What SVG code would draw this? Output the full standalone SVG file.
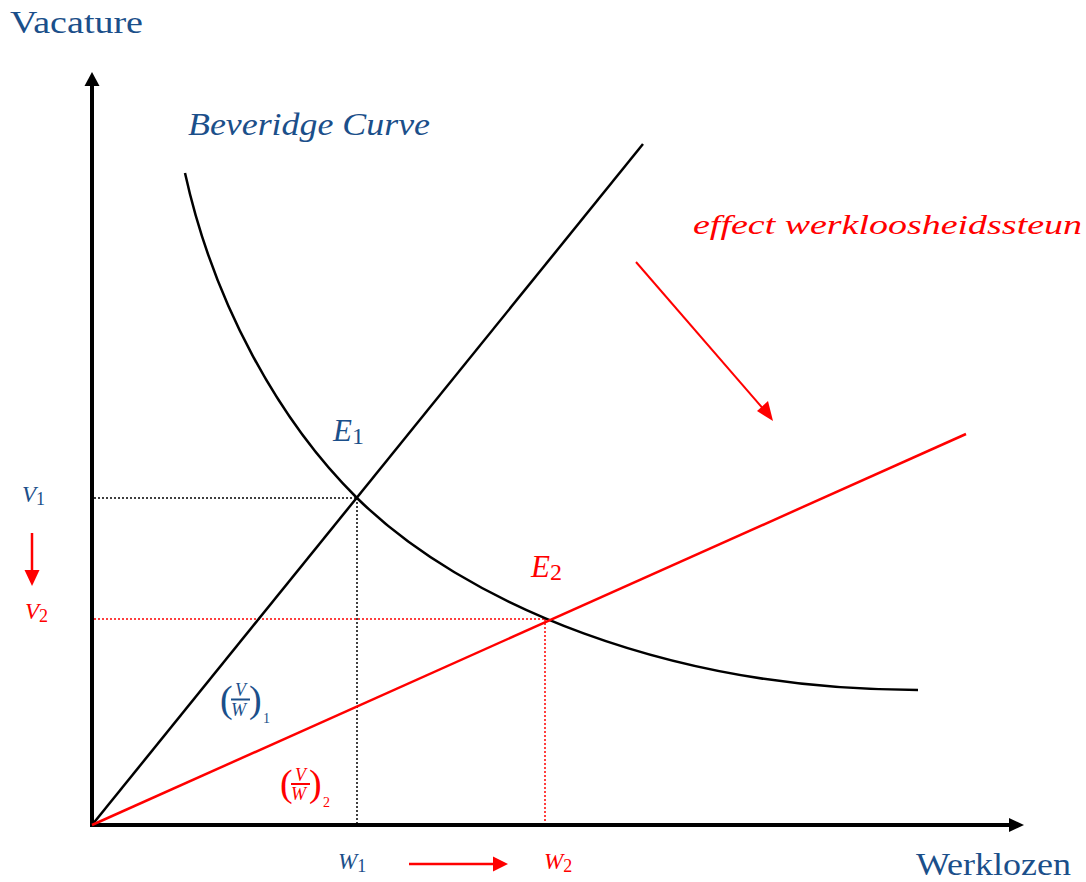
<svg xmlns="http://www.w3.org/2000/svg" width="1086" height="882" viewBox="0 0 1086 882">
<style>
.ax{fill:#1B4F8A;font-family:"Liberation Serif",serif;font-size:32px}
.mi{font-family:"Liberation Serif",serif;font-style:italic}
.up{font-family:"Liberation Serif",serif}
.b{fill:#1B4F8A}
.r{fill:#FF0000}
.sub{font-style:normal}
.k{stroke:#000;fill:none}
.rl{stroke:#FF0000;fill:none}
.dot{stroke-width:1.5;stroke-dasharray:2 2}
</style>
<rect width="1086" height="882" fill="#fff"/>
<g id="axes">
<line x1="92" y1="827" x2="92" y2="84" stroke="#000" stroke-width="4"/>
<polygon points="92,72 84.5,86 99.5,86" fill="#000"/>
<line x1="90" y1="825" x2="1011" y2="825" stroke="#000" stroke-width="4"/>
<polygon points="1024,825 1009,818 1009,832" fill="#000"/>
<text class="ax" x="10" y="33" textLength="133" lengthAdjust="spacingAndGlyphs">Vacature</text>
<text class="ax" x="916" y="875" textLength="155" lengthAdjust="spacingAndGlyphs">Werklozen</text>
</g>
<g id="guides">
<line class="k dot" x1="94" y1="498" x2="357" y2="498"/>
<line class="k dot" x1="357" y1="498" x2="357" y2="823"/>
<line class="rl dot" x1="94" y1="619" x2="545" y2="619"/>
<line class="rl dot" x1="545" y1="619" x2="545" y2="823"/>
</g>
<g id="connectors">
<path id="beveridge-curve" class="k" stroke-width="2.5" d="M185,173 C213.6,303 279,421 357,498 C463.5,603 668,690 918,690"/>
<line id="ratio-1" class="k" stroke-width="2.5" x1="92" y1="825" x2="643" y2="144"/>
<line id="ratio-2" class="rl" stroke-width="2.5" x1="92" y1="825" x2="966" y2="434"/>
<line class="rl" stroke-width="2" x1="636" y1="262" x2="765" y2="411"/>
<polygon points="773,421 757,411 768,401" fill="#FF0000"/>
<line class="rl" stroke-width="2.5" x1="32" y1="533" x2="32" y2="572"/>
<polygon points="32,586 24.5,570 39.5,570" fill="#FF0000"/>
<line class="rl" stroke-width="2.5" x1="409" y1="864" x2="495" y2="864"/>
<polygon points="508,864 493,856.5 493,871.5" fill="#FF0000"/>
</g>
<g id="label-beveridge">
<text class="mi b" x="188" y="135" font-size="31" textLength="242" lengthAdjust="spacingAndGlyphs">Beveridge Curve</text>
</g>
<g id="label-effect">
<text class="mi r" x="693" y="234" font-size="28" textLength="389" lengthAdjust="spacingAndGlyphs">effect werkloosheidssteun</text>
</g>
<g id="node-E1">
<text class="mi b" x="333" y="441" font-size="31">E<tspan class="sub" font-size="24" dy="3">1</tspan></text>
</g>
<g id="node-E2">
<text class="mi r" x="531" y="577" font-size="31">E<tspan class="sub" font-size="24" dy="3">2</tspan></text>
</g>
<g id="label-V1">
<text class="mi b" x="22" y="502" font-size="23">V<tspan class="sub" font-size="18" dy="3">1</tspan></text>
</g>
<g id="label-V2">
<text class="mi r" x="25" y="619" font-size="23">V<tspan class="sub" font-size="18" dy="3">2</tspan></text>
</g>
<g id="label-W1">
<text class="mi b" x="338" y="869" font-size="23">W<tspan class="sub" font-size="18" dy="3">1</tspan></text>
</g>
<g id="label-W2">
<text class="mi r" x="544" y="869" font-size="23">W<tspan class="sub" font-size="18" dy="3">2</tspan></text>
</g>
<g id="label-ratio1">
<text class="up b" font-size="38" x="220" y="712">(</text>
<text class="mi b" font-size="18" x="235" y="696">V</text>
<line x1="231" y1="699.5" x2="250" y2="699.5" stroke="#1B4F8A" stroke-width="2"/>
<text class="mi b" font-size="18" x="231" y="716">W</text>
<text class="up b" font-size="38" x="249" y="712">)</text>
<text class="up b" font-size="14" x="263" y="723">1</text>
</g>
<g id="label-ratio2">
<text class="up r" font-size="38" x="280" y="796">(</text>
<text class="mi r" font-size="18" x="295" y="781">V</text>
<line x1="291" y1="784" x2="310" y2="784" stroke="#FF0000" stroke-width="2"/>
<text class="mi r" font-size="18" x="291" y="800">W</text>
<text class="up r" font-size="38" x="309" y="796">)</text>
<text class="up r" font-size="14" x="323" y="807">2</text>
</g>
</svg>
